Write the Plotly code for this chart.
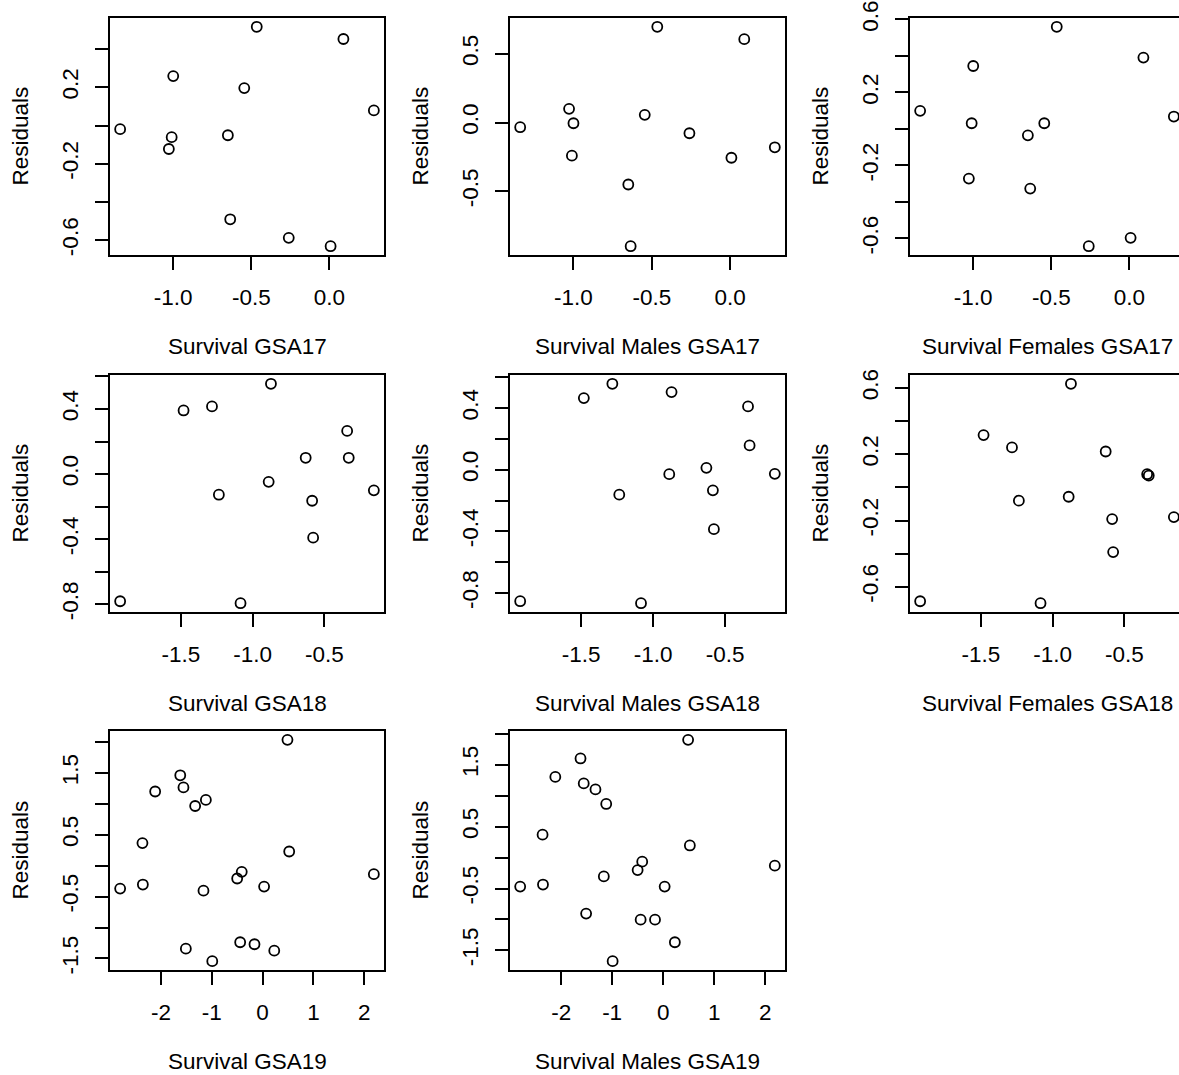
import plotly.graph_objects as go

# ---------------- data ----------------
# GSA17 survival (x) and residuals
x_gsa17 = [-1.340, -1.028, -1.010, -1.000, -0.650, -0.635, -0.545, -0.465, -0.260, 0.008, 0.090, 0.285]
res_gsa17_all = [-0.019, -0.123, -0.061, 0.259, -0.051, -0.491, 0.196, 0.517, -0.588, -0.632, 0.453, 0.079]
res_gsa17_males = [-0.034, 0.100, -0.241, -0.005, -0.451, -0.900, 0.056, 0.697, -0.078, -0.256, 0.607, -0.180]
res_gsa17_females = [0.099, -0.272, 0.031, 0.345, -0.035, -0.327, 0.031, 0.560, -0.643, -0.597, 0.391, 0.068]

# GSA18
x_gsa18 = [-1.923, -1.481, -1.283, -1.235, -1.084, -0.888, -0.872, -0.630, -0.585, -0.578, -0.341, -0.330, -0.155]
res_gsa18_all = [-0.782, 0.391, 0.416, -0.127, -0.794, -0.048, 0.555, 0.100, -0.164, -0.391, 0.265, 0.100, -0.100]
res_gsa18_males = [-0.854, 0.465, 0.558, -0.162, -0.867, -0.029, 0.504, 0.012, -0.134, -0.386, 0.411, 0.158, -0.027]
res_gsa18_females = [-0.687, 0.316, 0.242, -0.080, -0.699, -0.056, 0.626, 0.217, -0.191, -0.390, 0.080, 0.072, -0.179]

# GSA19
x_gsa19 = [-2.803, -2.364, -2.356, -2.114, -1.620, -1.557, -1.510, -1.327, -1.163, -1.116,
           -0.990, -0.500, -0.441, -0.410, -0.159, 0.030, 0.230, 0.490, 0.524, 2.190]
res_gsa19_all = [-0.371, 0.366, -0.305, 1.200, 1.462, 1.266, -1.342, 0.965, -0.404, 1.063,
                 -1.544, -0.207, -1.238, -0.099, -1.271, -0.338, -1.375, 2.035, 0.229, -0.137]
res_gsa19_males = [-0.469, 0.371, -0.436, 1.304, 1.603, 1.200, -0.906, 1.102, -0.305, 0.867,
                   -1.675, -0.202, -1.004, -0.066, -1.004, -0.469, -1.369, 1.904, 0.196, -0.131]

# axis labels
xlabels = ["Survival GSA17", "Survival Males GSA17", "Survival Females GSA17",
           "Survival GSA18", "Survival Males GSA18", "Survival Females GSA18",
           "Survival GSA19", "Survival Males GSA19"]
ylabel = "Residuals"

# tick values / labels
xt17 = [-1.0, -0.5, 0.0]
xt17_text = ["-1.0", "-0.5", "0.0"]
xt18 = [-1.5, -1.0, -0.5]
xt18_text = ["-1.5", "-1.0", "-0.5"]
xt19 = [-2, -1, 0, 1, 2]
xt19_text = ["-2", "-1", "0", "1", "2"]

yt_a = [-0.6, -0.4, -0.2, 0.0, 0.2, 0.4]
yt_a_text = ["-0.6", "", "-0.2", "", "0.2", ""]
yt_b = [-0.5, 0.0, 0.5]
yt_b_text = ["-0.5", "0.0", "0.5"]
yt_c = [-0.6, -0.4, -0.2, 0.0, 0.2, 0.4, 0.6]
yt_c_text = ["-0.6", "", "-0.2", "", "0.2", "", "0.6"]
yt_d = [-0.8, -0.6, -0.4, -0.2, 0.0, 0.2, 0.4, 0.6]
yt_d_text = ["-0.8", "", "-0.4", "", "0.0", "", "0.4", ""]
yt_e = [-1.5, -1.0, -0.5, 0.0, 0.5, 1.0, 1.5, 2.0]
yt_e_text = ["-1.5", "", "-0.5", "", "0.5", "", "1.5", ""]

panels = [
    (x_gsa17, res_gsa17_all, xt17, xt17_text, yt_a, yt_a_text),
    (x_gsa17, res_gsa17_males, xt17, xt17_text, yt_b, yt_b_text),
    (x_gsa17, res_gsa17_females, xt17, xt17_text, yt_c, yt_c_text),
    (x_gsa18, res_gsa18_all, xt18, xt18_text, yt_d, yt_d_text),
    (x_gsa18, res_gsa18_males, xt18, xt18_text, yt_d, yt_d_text),
    (x_gsa18, res_gsa18_females, xt18, xt18_text, yt_c, yt_c_text),
    (x_gsa19, res_gsa19_all, xt19, xt19_text, yt_e, yt_e_text),
    (x_gsa19, res_gsa19_males, xt19, xt19_text, yt_e, yt_e_text),
]

# ---------------- layout geometry (pixels) ----------------
W, H = 1179, 1075
col_l = [110, 510, 910]
col_r = [384, 785, 1184]
row_t = [18, 375, 731]
row_b = [255, 612, 970]

FONT = "Liberation Sans, Arial, sans-serif"
FS = 22.5
INK = "#000000"


def r_range(v):
    lo, hi = min(v), max(v)
    pad = 0.04 * (hi - lo)
    return [lo - pad, hi + pad]


fig = go.Figure()
annotations = []

for i, (xs, ys, xtv, xtt, ytv, ytt) in enumerate(panels):
    r, c = divmod(i, 3)
    n = "" if i == 0 else str(i + 1)
    xa, ya = "x" + n, "y" + n
    fig.add_trace(go.Scatter(
        x=xs, y=ys, mode="markers", xaxis=xa, yaxis=ya, showlegend=False,
        marker=dict(symbol="circle-open", size=10, color=INK, line=dict(width=1.8, color=INK)),
        cliponaxis=False, hoverinfo="x+y"))

    xr = r_range(xs)
    yr = r_range(ys)
    left, right = col_l[c], col_r[c]
    clipped = right > W
    if clipped:
        frac = (W - left) / (right - left)
        xr = [xr[0], xr[0] + (xr[1] - xr[0]) * frac]
        right_dom = W
    else:
        right_dom = right

    xdom = [left / W, right_dom / W]
    ydom = [1 - row_b[r] / H, 1 - row_t[r] / H]

    common = dict(showgrid=False, zeroline=False, showline=True, linecolor=INK, linewidth=2,
                  ticks="outside", ticklen=13, tickwidth=2, tickcolor=INK,
                  tickfont=dict(family=FONT, size=FS, color=INK), automargin=False,
                  fixedrange=True)
    fig.layout["xaxis" + n] = dict(common, domain=xdom, range=xr, anchor=ya,
                                   tickmode="array", tickvals=xtv, ticktext=xtt,
                                   mirror=True, ticklabelstandoff=8)
    fig.layout["yaxis" + n] = dict(common, domain=ydom, range=yr, anchor=xa,
                                   tickmode="array", tickvals=ytv, ticktext=ytt,
                                   mirror=(not clipped), tickangle=-90, ticklabelstandoff=8)

    # axis titles
    annotations.append(dict(text=xlabels[i], xref="paper", yref="paper",
                            x=(left + right) / 2 / W, y=1 - (row_b[r] + 91) / H,
                            xanchor="center", yanchor="middle", showarrow=False,
                            font=dict(family=FONT, size=FS, color=INK)))
    annotations.append(dict(text=ylabel, xref="paper", yref="paper",
                            x=(left - 90) / W, y=1 - (row_t[r] + row_b[r]) / 2 / H,
                            xanchor="center", yanchor="middle", textangle=-90, showarrow=False,
                            font=dict(family=FONT, size=FS, color=INK)))

fig.update_layout(width=W, height=H, margin=dict(l=0, r=0, t=0, b=0),
                  paper_bgcolor="white", plot_bgcolor="white",
                  annotations=annotations, showlegend=False)

fig.write_html("out.html", config={"displayModeBar": False},
               post_script="document.body.style.margin='0';document.body.style.overflow='hidden';")
